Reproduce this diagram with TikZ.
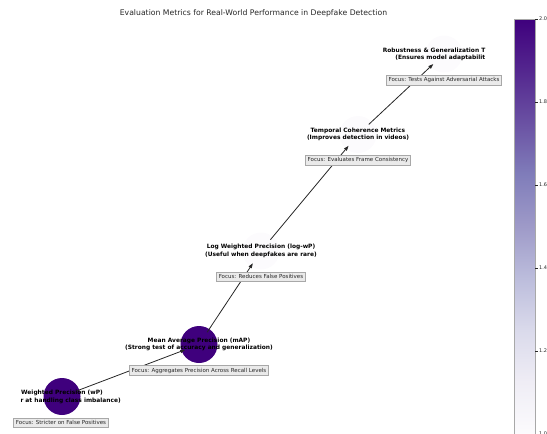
\documentclass[tikz,border=0pt]{standalone}
\usepackage{fontspec}
\setmainfont{DejaVu Sans}
\usetikzlibrary{arrows.meta}

% Purples colour map (light to dark)
\definecolor{pu0}{HTML}{FCFBFD}
\definecolor{pu1}{HTML}{EFEDF5}
\definecolor{pu2}{HTML}{DADAEB}
\definecolor{pu3}{HTML}{BCBDDC}
\definecolor{pu4}{HTML}{9E9AC8}
\definecolor{pu5}{HTML}{807DBA}
\definecolor{pu6}{HTML}{6A51A3}
\definecolor{pu7}{HTML}{54278F}
\definecolor{pu8}{HTML}{3F007D}
\definecolor{boxfill}{HTML}{EAEAEA}
\definecolor{boxline}{HTML}{A8A8A8}
\definecolor{textgray}{HTML}{262626}

\pgfdeclareverticalshading{purplesbar}{100bp}{%
  color(0bp)=(pu0); color(25bp)=(pu0); color(31.25bp)=(pu1);
  color(37.5bp)=(pu2); color(43.75bp)=(pu3); color(50bp)=(pu4);
  color(56.25bp)=(pu5); color(62.5bp)=(pu6); color(68.75bp)=(pu7);
  color(75bp)=(pu8); color(100bp)=(pu8)}

\tikzset{
  metric/.style={circle, minimum size=37pt, inner sep=0pt, draw=none},
  edge/.style={draw=black!85, line width=0.8pt,
    -{Triangle[length=5pt,width=3.4pt]},
    shorten >=-4pt, shorten <=-4pt},
  mlabel/.style={font=\fontsize{5.9}{7.5}\selectfont\bfseries, text=black,
    inner sep=0pt, align=center},
  focus/.style={font=\fontsize{5.5}{6.5}\selectfont, text=textgray,
    fill=boxfill, draw=boxline, line width=0.5pt, inner xsep=2.2pt,
    inner ysep=2.2pt},
  ticklbl/.style={font=\fontsize{5}{6}\selectfont, text=textgray,
    inner sep=0pt, anchor=west}
}

\begin{document}
\begin{tikzpicture}[x=1pt,y=-1pt]
\useasboundingbox (0,0) rectangle (547,434);

% title
\node[font=\fontsize{7.7}{9}\selectfont, text=textgray] (title) at (253.5,13)
  {Evaluation Metrics for Real-World Performance in Deepfake Detection};

% metric nodes, coloured by weight
\node[metric, fill=pu8] (wp)   at (62,396.5) {};
\node[metric, fill=pu8] (map)  at (199,344.5) {};
\node[metric, fill=pu0] (logwp) at (261,251) {};
\node[metric, fill=pu0] (temp) at (358,134.5) {};
\node[metric, fill=pu0] (rob)  at (444,54) {};

% progression between metrics
\draw[edge] (wp) -- (map);
\draw[edge] (map) -- (logwp);
\draw[edge] (logwp) -- (temp);
\draw[edge] (temp) -- (rob);

% metric labels
\node[mlabel] (wpA) at (62,393) {Weighted Precision (wP)};
\node[mlabel, anchor=east] (wpB) at (121,400.5) {r at handling class imbalance)};
\node[mlabel] (mapL) at (199,344.5)
  {Mean Average Precision (mAP)\\(Strong test of accuracy and generalization)};
\node[mlabel] (logL) at (261,251)
  {Log Weighted Precision (log-wP)\\(Useful when deepfakes are rare)};
\node[mlabel] (tempL) at (358,134.5)
  {Temporal Coherence Metrics\\(Improves detection in videos)};
\node[mlabel, anchor=east] (robA) at (485.5,50.5) {Robustness \& Generalization T};
\node[mlabel, anchor=east] (robB) at (485.5,58) {(Ensures model adaptabilit};

% focus boxes
\node[focus] (wpF)   at (61,422.5)  {Focus: Stricter on False Positives};
\node[focus] (mapF)  at (199,370.5) {Focus: Aggregates Precision Across Recall Levels};
\node[focus] (logF)  at (261,276.5) {Focus: Reduces False Positives};
\node[focus] (tempF) at (358,160)   {Focus: Evaluates Frame Consistency};
\node[focus] (robF)  at (444,80)    {Focus: Tests Against Adversarial Attacks};

% colour bar
\shade[shading=purplesbar] (514,19) rectangle (535,434);
\draw[boxline, line width=0.5pt] (514,19) rectangle (535,434);
\foreach \v/\y [count=\i] in {2.0/19, 1.8/102, 1.6/185, 1.4/268, 1.2/351, 1.0/434}{
  \draw[textgray, line width=0.4pt] (535,\y) -- (537.5,\y);
  \node[ticklbl] (tick\i) at (539,\y) {\v};
}
\end{tikzpicture}
\end{document}
